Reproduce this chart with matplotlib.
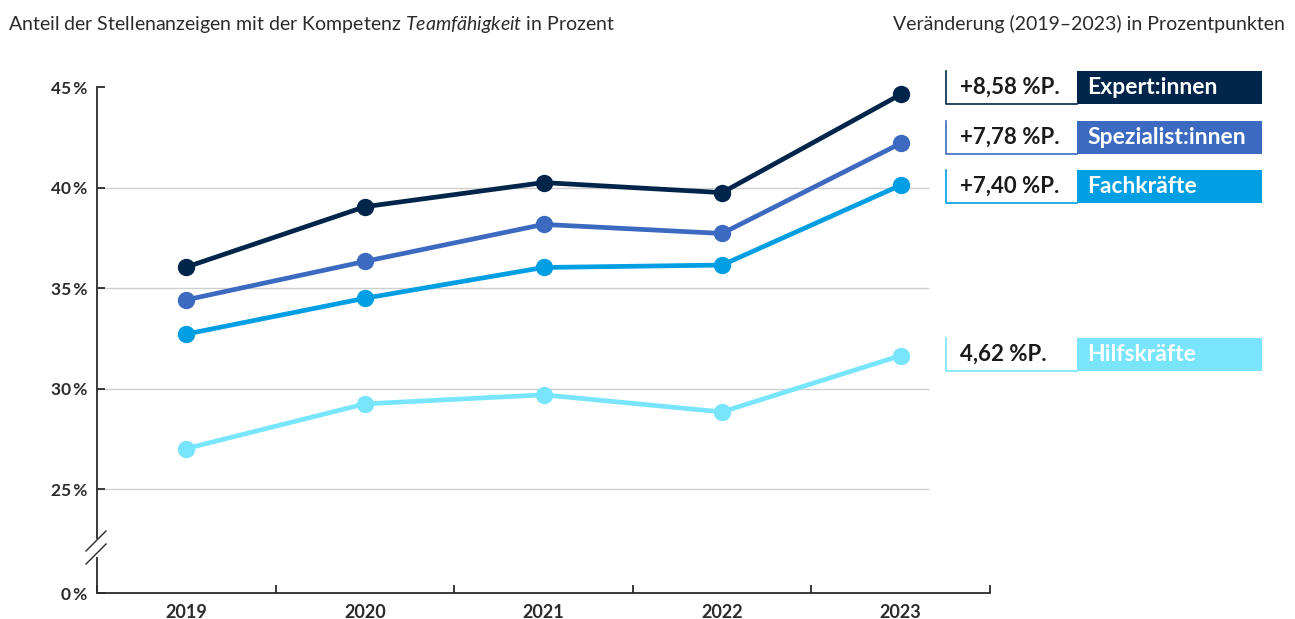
import matplotlib
matplotlib.use("Agg")
import matplotlib.pyplot as plt
from matplotlib.patches import Rectangle
from matplotlib.lines import Line2D

plt.rcParams["font.family"] = ["Lato", "DejaVu Sans"]
plt.rcParams["mathtext.fontset"] = "custom"
plt.rcParams["mathtext.rm"] = "Lato"
plt.rcParams["mathtext.it"] = "Lato:italic"

# data
years = ["2019", "2020", "2021", "2022", "2023"]
series_names = ["Hilfskräfte", "Fachkräfte", "Spezialist:innen", "Expert:innen"]
hilfskraefte = [27.03, 29.25, 29.70, 28.85, 31.65]
fachkraefte = [32.72, 34.50, 36.03, 36.15, 40.12]
spezialisten = [34.42, 36.33, 38.17, 37.72, 42.20]
experten = [36.05, 39.05, 40.25, 39.75, 44.63]
changes = ["4,62 %P.", "+7,40 %P.", "+7,78 %P.", "+8,58 %P."]
colors = ["#78E5FD", "#009EE2", "#3C6AC0", "#00254A"]
ytick_vals = [25, 30, 35, 40, 45]

W, H = 1295, 619
TXT = "#2b2b2b"

fig = plt.figure(figsize=(W / 100, H / 100), dpi=100)
ax = fig.add_axes([97 / W, 1 - 593 / H, (990 - 97) / W, (593 - 87) / H])

y_zero = 19.85  # where the "0 %" label sits below the axis break
ax.set_xlim(-0.5, 4.5)
ax.set_ylim(y_zero, 45)

# gridlines
ax.hlines([25, 30, 35, 40], -0.5, 4.16, color="#cfcfcf", lw=1.0, zorder=0)

xs = list(range(len(years)))
for vals, c in zip([hilfskraefte, fachkraefte, spezialisten, experten], colors):
    ax.plot(xs, vals, color=c, lw=3.4, marker="o", ms=11.5, clip_on=False,
            solid_capstyle="round", zorder=3)

# spines
for s in ["top", "right"]:
    ax.spines[s].set_visible(False)
for s in ["left", "bottom"]:
    ax.spines[s].set_color(TXT)
    ax.spines[s].set_linewidth(1.3)
ax.spines["left"].set_bounds(22.6, 45)
ax.plot([-0.5, -0.5], [y_zero, 21.65], color=TXT, lw=1.3, clip_on=False,
        solid_capstyle="butt")

# axis break marks
def fp(x, y):
    return x / W, 1 - y / H

for (x0, y0), (x1, y1) in [((86, 551), (106, 531)), ((86, 564), (106, 544))]:
    a, b = fp(x0, y0)
    c, d = fp(x1, y1)
    fig.add_artist(Line2D([a, c], [b, d], color=TXT, lw=1.0,
                          transform=fig.transFigure))

# ticks
ax.set_yticks([y_zero] + ytick_vals)
ax.set_yticklabels(["0\u2009%"] + [f"{v}\u2009%" for v in ytick_vals])
ax.tick_params(axis="y", direction="in", length=6, width=1.3, color=TXT,
               pad=7, labelsize=12.5, labelcolor=TXT)
ax.set_xticks(xs)
ax.set_xticklabels(years)
ax.set_xticks([i - 0.5 for i in range(len(years) + 1)], minor=True)
ax.tick_params(axis="x", which="major", length=0, pad=8, labelsize=13,
               labelcolor=TXT)
ax.tick_params(axis="x", which="minor", direction="in", length=6, width=1.3,
               color=TXT)
for lab in ax.get_xticklabels() + ax.get_yticklabels():
    lab.set_fontweight("bold")

# titles
fig.text(8 / W, 1 - 30 / H,
         r"Anteil der Stellenanzeigen mit der Kompetenz $\mathit{Teamfähigkeit}$ in Prozent",
         fontsize=14, color=TXT, ha="left", va="baseline")
fig.text(1285 / W, 1 - 30 / H, "Veränderung (2019–2023) in Prozentpunkten",
         fontsize=14, color=TXT, ha="right", va="baseline")

# labels on the right
box_tops = [338, 170, 121, 71]
box_h = 33
x_left, x_mid, x_right = 946, 1077, 1262
for top, name, chg, c in zip(box_tops, series_names, changes, colors):
    bottom = top + box_h
    fig.add_artist(Rectangle(fp(x_mid, bottom), (x_right - x_mid) / W, box_h / H,
                             transform=fig.transFigure, color=c, lw=0))
    fig.add_artist(Line2D([x_left / W, x_left / W, x_mid / W],
                          [1 - top / H, 1 - bottom / H, 1 - bottom / H],
                          color=c, lw=1.2, transform=fig.transFigure))
    yc = 1 - (top + box_h / 2) / H
    fig.text(960 / W, yc, chg, fontsize=16, fontweight="bold", color="#1a1a1a",
             ha="left", va="center")
    fig.text(1087 / W, yc, name, fontsize=16.5, fontweight="bold", color="white",
             ha="left", va="center")

fig.savefig("out.png", dpi=100)
